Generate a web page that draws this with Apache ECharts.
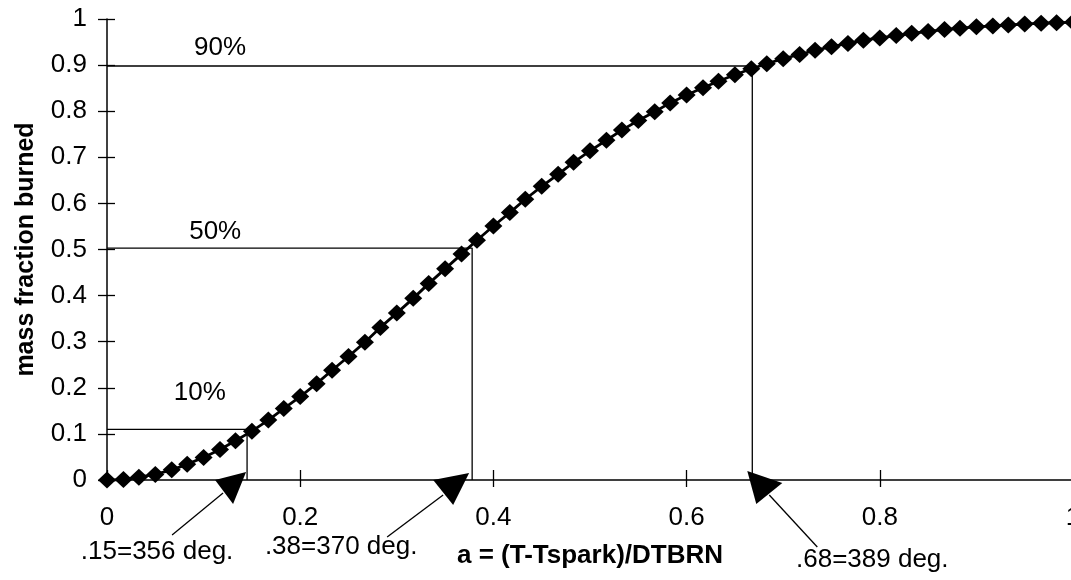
<!DOCTYPE html>
<html><head><meta charset="utf-8">
<script src="https://cdn.jsdelivr.net/npm/echarts@6/dist/echarts.min.js"></script>
<style>html,body{margin:0;padding:0;background:#fff}#c{width:1071px;height:580px}</style>
</head><body><div id="c"></div>
<script>
// a = (T-Tspark)/DTBRN
const aValues = [0,0.017,0.033,0.05,0.067,0.083,0.1,0.117,0.133,0.15,0.167,0.183,0.2,0.217,0.233,0.25,0.267,0.283,0.3,0.317,0.333,0.35,0.367,0.383,0.4,0.417,0.433,0.45,0.467,0.483,0.5,0.517,0.533,0.55,0.567,0.583,0.6,0.617,0.633,0.65,0.667,0.683,0.7,0.717,0.733,0.75,0.767,0.783,0.8,0.817,0.833,0.85,0.867,0.883,0.9,0.917,0.933,0.95,0.967,0.983,1];
// mass fraction burned
const massFraction = [0,0.001,0.006,0.012,0.022,0.034,0.049,0.066,0.085,0.106,0.130,0.155,0.181,0.209,0.238,0.268,0.299,0.331,0.362,0.394,0.426,0.458,0.490,0.520,0.551,0.580,0.609,0.637,0.663,0.689,0.714,0.737,0.759,0.780,0.799,0.818,0.835,0.851,0.865,0.879,0.892,0.903,0.914,0.923,0.932,0.940,0.947,0.954,0.959,0.964,0.969,0.973,0.977,0.980,0.983,0.985,0.987,0.989,0.991,0.992,0.993];
const xTickLabels = ['0','0.2','0.4','0.6','0.8','1'];
const guideLevels = [0.11, 0.503, 0.898];
const guideCrossings = [0.145, 0.378, 0.668];
const guideLabels = ['10%', '50%', '90%'];
const guideLabelPos = [[0.096, 0.189], [0.112, 0.538], [0.117, 0.937]];
const arrowLabels = ['.15=356 deg.', '.38=370 deg.', '.68=389 deg.'];

const FONT = '"Liberation Sans", Arial, Helvetica, sans-serif';
const chart = echarts.init(document.getElementById('c'));

const guideSeries = guideLevels.map((lv, i) => ({
  type: 'line', symbol: 'none', silent: true, z: 2,
  lineStyle: { color: '#000', width: 1.3 },
  data: [[0, lv], [guideCrossings[i], lv], [guideCrossings[i], 0]]
}));

chart.setOption({
  animation: false,
  backgroundColor: '#fff',
  grid: { left: 107, top: 19, width: 966, height: 461, outerBoundsMode: 'none', containLabel: false },
  xAxis: [{
    type: 'value', min: 0, max: 1, interval: 0.2,
    name: 'a = (T-Tspark)/DTBRN', nameLocation: 'middle', nameGap: 63,
    nameTextStyle: { fontFamily: FONT, fontSize: 26, fontWeight: 'bold', color: '#000' },
    axisLine: { lineStyle: { color: '#000', width: 1.5 } },
    axisTick: { length: 7, lineStyle: { color: '#000', width: 1.3 } },
    axisLabel: { margin: 25, fontFamily: FONT, fontSize: 26, color: '#000',
      formatter: (v) => xTickLabels[Math.round(v / 0.2)] },
    splitLine: { show: false }
  }, {
    type: 'value', min: 0, max: 1, interval: 0.2, position: 'bottom',
    axisLine: { show: false }, axisLabel: { show: false }, splitLine: { show: false },
    axisTick: { inside: true, length: 10, lineStyle: { color: '#000', width: 1.3 } }
  }],
  yAxis: [{
    type: 'value', min: 0, max: 1, interval: 0.1,
    name: 'mass fraction burned', nameLocation: 'middle', nameGap: 68,
    nameTextStyle: { fontFamily: FONT, fontSize: 25, fontWeight: 'bold', color: '#000' },
    axisLine: { show: true, lineStyle: { color: '#000', width: 1.5 } },
    axisTick: { show: true, length: 9, lineStyle: { color: '#000', width: 1.3 } },
    axisLabel: { margin: 20, fontFamily: FONT, fontSize: 26, color: '#000' },
    splitLine: { show: false }
  }, {
    type: 'value', min: 0, max: 1, interval: 0.1, position: 'left',
    axisLine: { show: false }, axisLabel: { show: false }, splitLine: { show: false },
    axisTick: { show: true, inside: true, length: 8, lineStyle: { color: '#000', width: 1.3 } }
  }],
  series: guideSeries.concat([{
    type: 'scatter', symbolSize: 1, itemStyle: { color: 'rgba(0,0,0,0)' }, silent: true,
    label: { show: true, position: 'inside', fontFamily: FONT, fontSize: 26, color: '#000',
      opacity: 1, textBorderWidth: 0, textShadowBlur: 0,
      formatter: (p) => p.name },
    data: guideLabels.map((t, i) => ({ name: t, value: guideLabelPos[i] }))
  }, {
    type: 'line', z: 5, clip: false,
    symbol: 'diamond', symbolSize: [18, 17], showSymbol: true,
    itemStyle: { color: '#000' },
    lineStyle: { color: '#000', width: 2.8 },
    data: aValues.map((a, i) => [a, massFraction[i]])
  }])
});

// arrows pointing at the crossing feet, with their labels
const arrowGeom = [
  { tip: [-1, -8], v1: [-32, 0], v2: [-14, 24], t0: [-24, 13], t1: [-75, 55], txt: [-90, 72] },
  { tip: [-3, -7], v1: [-39, 0], v2: [-19, 25], t0: [-29, 15], t1: [-85, 57], txt: [-131, 67] },
  { tip: [-5, -9], v1: [30, 3], v2: [4, 24], t0: [17, 15], t1: [65, 67], txt: [120, 80] }
];
const graphics = [];
guideCrossings.forEach((c, i) => {
  const p = chart.convertToPixel({ gridIndex: 0 }, [c, 0]);
  const g = arrowGeom[i];
  const add = (o) => [p[0] + o[0], p[1] + o[1]];
  graphics.push({ type: 'polygon', shape: { points: [add(g.tip), add(g.v1), add(g.v2)] },
    style: { fill: '#000' }, z: 10 });
  graphics.push({ type: 'line', shape: { x1: add(g.t0)[0], y1: add(g.t0)[1], x2: add(g.t1)[0], y2: add(g.t1)[1] },
    style: { stroke: '#000', lineWidth: 1.3 }, z: 10 });
  const tp = add(g.txt);
  graphics.push({ type: 'text', x: tp[0], y: tp[1], z: 10,
    style: { text: arrowLabels[i], font: '26px ' + FONT, fill: '#000', align: 'center', verticalAlign: 'middle' } });
});
chart.setOption({ graphic: graphics });
</script>
</body></html>
